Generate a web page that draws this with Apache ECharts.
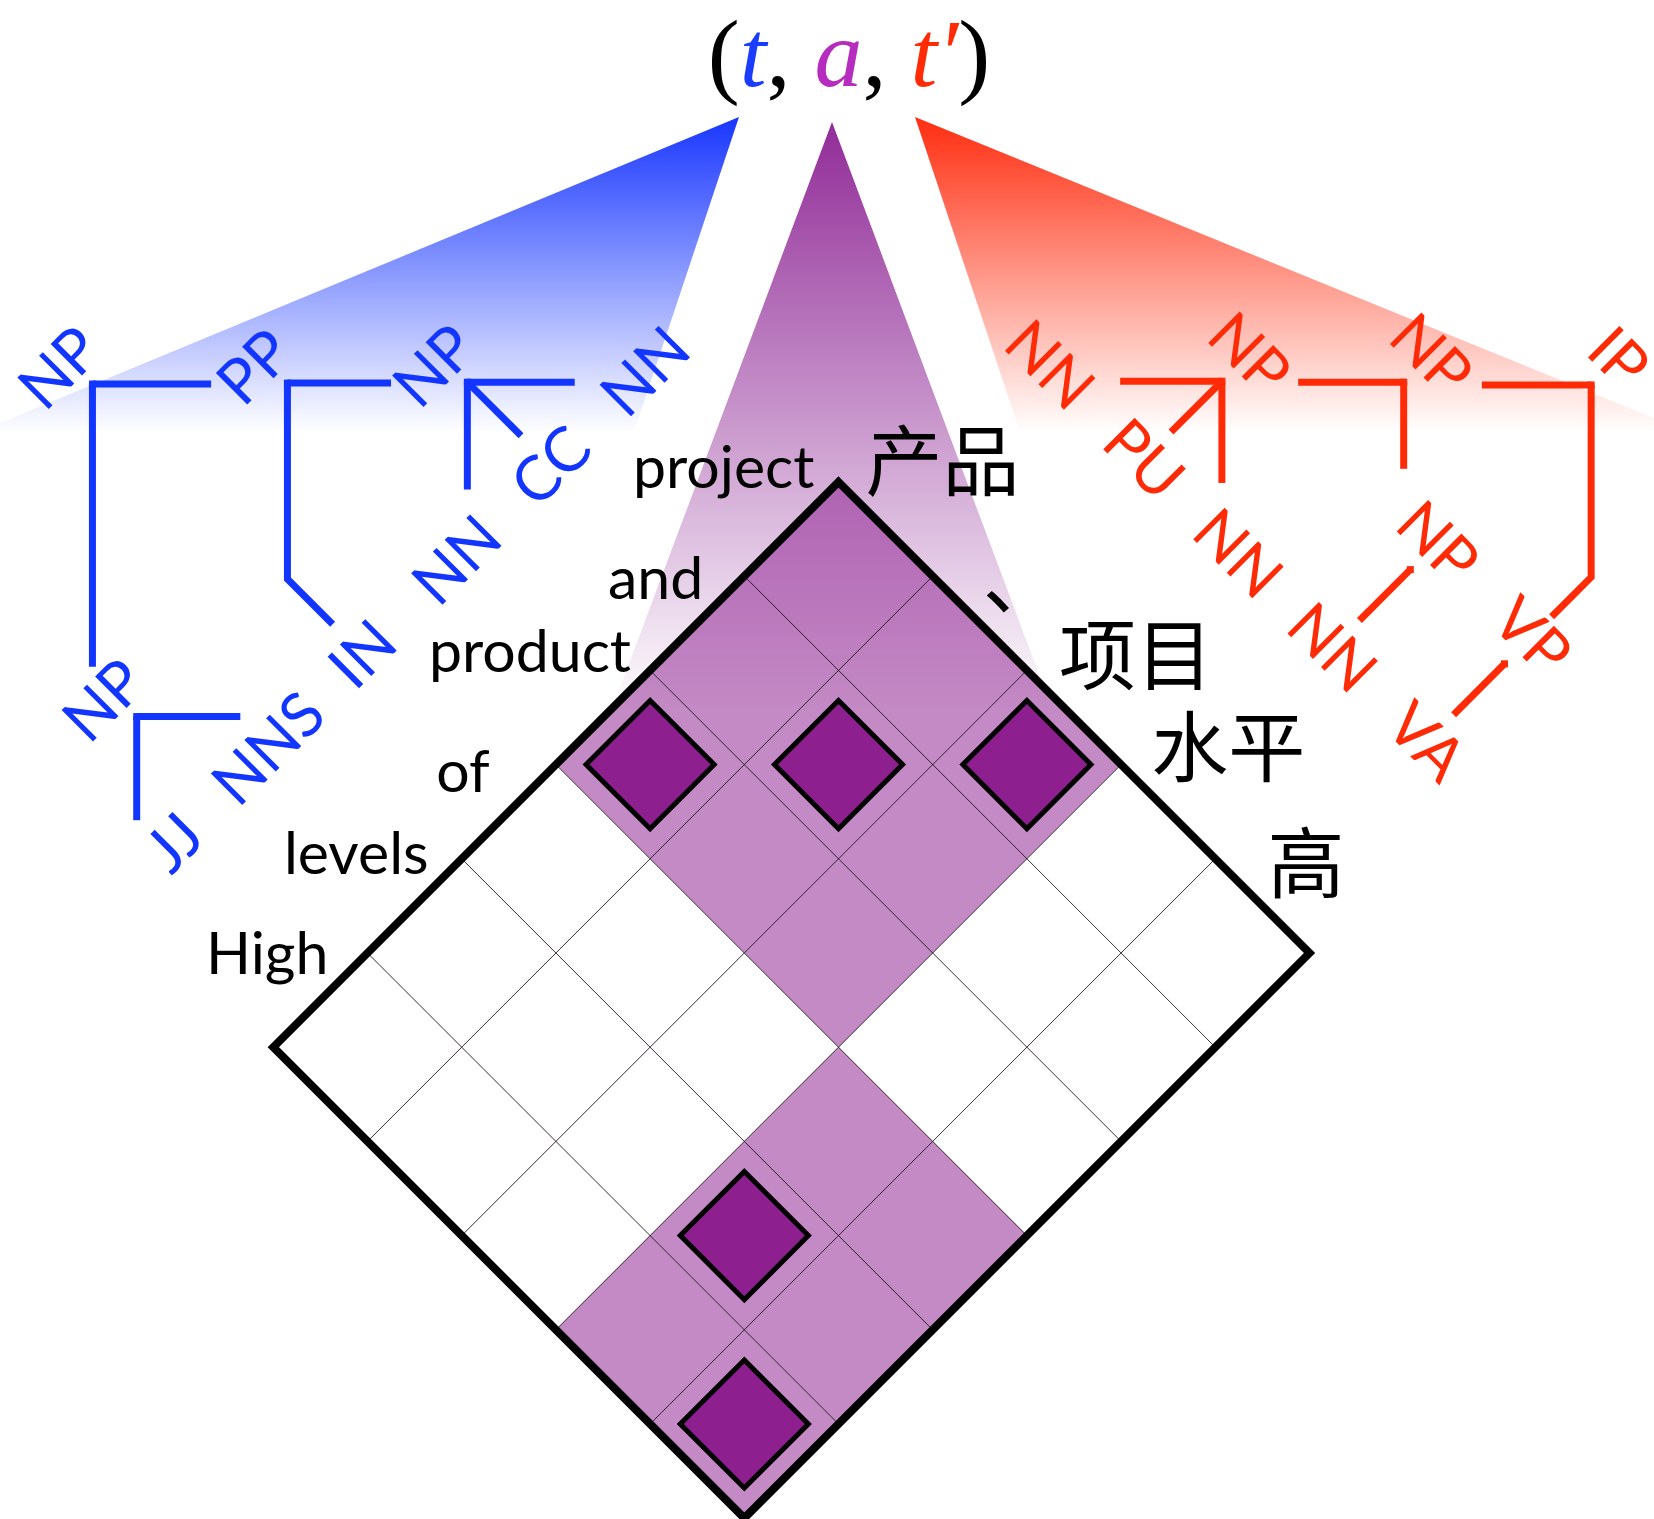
<!DOCTYPE html>
<html>
<head>
<meta charset="utf-8">
<script src="https://cdn.jsdelivr.net/npm/echarts@6/dist/echarts.min.js"></script>
<style>
  html, body { margin: 0; padding: 0; background: #fff; }
  #chart { width: 1654px; height: 1519px; }
</style>
</head>
<body>
<div id="chart"></div>
<script>
// sentence pair, left to right
const enWords = ['High', 'levels', 'of', 'product', 'and', 'project']
const zhWords = ['产品', '、', '项目', '水平', '高']
// word alignments [en index, zh index]
const links = [[0, 4], [1, 3], [3, 0], [4, 1], [5, 2]]
// aligned phrase blocks [en from, en to, zh from, zh to]
const blocks = [[3, 5, 0, 2], [0, 2, 3, 4]]
// part of speech tags, one per word
const enTags = ['JJ', 'NNS', 'IN', 'NN', 'CC', 'NN']
const zhTags = ['NN', 'PU', 'NN', 'NN', 'VA']
// phrase nodes: [label, place along the sentence, height above the words, children]
// 't3' = tag of word 3, 'n1' = node 1
const enNodes = [
  ['NP', 1.03, 2.48, ['t0', 't1']],
  ['NP', 4.56, 2.5, ['t3', 't4', 't5']],
  ['PP', 3.6, 3.45, ['t2', 'n1']],
  ['NP', 2.56, 4.48, ['n0', 'n2']],
]
const zhNodes = [
  ['NP', 1.5, 2.57, ['t0', 't1', 't2']],
  ['NP', 3.5, 2.57, ['t3']],
  ['VP', 4.5, 2.57, ['t4']],
  ['NP', 2.47, 3.53, ['n0', 'n1']],
  ['IP', 3.48, 4.51, ['n3', 'n2']],
]

// ---- layout ----
const S = 94.2              // px per cell half-diagonal
const TOP = [838.5, 482]    // page position of the grid's top corner
const W = 1654, H = 1519
const BLUE = '#1236ff', RED = '#ff2a06', PURPLE = '#8e1f8f'
const WORD_FONT = 'Lato, "Open Sans", sans-serif'
const CJK_FONT = '"Noto Sans CJK SC", sans-serif'
// small per-word lifts (px) of the word labels above their cell
const enLift = [-27, -33, -21, -47, -25, -42]
const enShift = [0, 0, -21, 0, 0, 0]
const zhLift = [-68, -45, -63, -65, -43]
// the three shaded fans under (t, a, t') in page pixels
const fans = [
  { apex: [739, 117], base: [[-22, 432], [634, 432]], rgb: '24,54,255', fade: 1 },
  { apex: [832, 122], base: [[591, 765], [1073, 765]], rgb: '145,44,152', fade: 0.92 },
  { apex: [915, 117], base: [[1020, 432], [1688, 432]], rgb: '255,45,16', fade: 1 },
]
// tree drawing settings per side
const enTree = { tagShift: 0.06, tagQ: 1.6, tagEnd: 1.93, labelDx: -0.09, labelDq: 0.25, horiz: 1 }
const zhTree = { tagShift: 0, tagQ: 1.73, tagEnd: 2.03, labelDx: 0, labelDq: 0.28, horiz: -1 }

const nEn = enWords.length, nZh = zhWords.length
const toFrame = ([px, py]) => [(px - TOP[0]) / S, (py - TOP[1]) / S]
// lattice point (a along english edge, b along chinese edge)
const lat = (a, b) => [b - a, a + b]
// english side: x along the sentence, q away from the grid
const enPt = (x, q) => { const p = nEn - x; return [-p - q, p - q] }
const zhPt = (x, q) => [x + q, x - q]

const cells = []
for (let e = 0; e < nEn; e++) {
  for (let c = 0; c < nZh; c++) {
    const i = nEn - 1 - e
    const shaded = blocks.some(b => i >= b[0] && i <= b[1] && c >= b[2] && c <= b[3])
    cells.push([e, c, shaded ? 1 : 0])
  }
}

function diamond(api, e, c, k) {
  const cx = c - e, cy = e + c + 1
  return [[cx, cy - k], [cx + k, cy], [cx, cy + k], [cx - k, cy]].map(p => api.coord(p))
}

function edgePath(xp, qp, xc, qEnd) {
  const dx = xc - xp, drop = qp - qEnd
  // a short straight tail is not worth a kink
  if (Math.abs(dx) <= drop - 0.12) return [[xp, qp], [xc, qp - Math.abs(dx)], [xc, qEnd]]
  return [[xp, qp], [xp + Math.sign(dx) * drop, qEnd]]
}

function treeSeries(nodes, toPt, color, rot, cfg) {
  return {
    type: 'custom', coordinateSystem: 'cartesian2d', z: 6,
    data: nodes.map((n, i) => [i]),
    renderItem: (params, api) => {
      const [label, x, q, kids] = nodes[params.dataIndex]
      const P = pt => api.coord(toPt(pt[0], pt[1]))
      const children = []
      kids.forEach(k => {
        let cx, end
        if (k[0] === 't') {
          cx = +k.slice(1) + 0.5 + cfg.tagShift
          end = cfg.tagEnd
        } else {
          const ch = nodes[+k.slice(1)]
          cx = ch[1]
          end = ch[2] + (Math.sign(cx - x) === cfg.horiz ? 0.4 : 0.5)
        }
        children.push({
          type: 'polyline',
          shape: { points: edgePath(x, q, cx, end).map(P) },
          style: { stroke: color, lineWidth: 7, fill: null, lineJoin: 'miter' },
        })
      })
      const c0 = P([x, q])
      children.push({ type: 'rect', shape: { x: c0[0] - 3.5, y: c0[1] - 3.5, width: 7, height: 7 }, style: { fill: color } })
      const lp = P([x + cfg.labelDx, q + cfg.labelDq])
      children.push({
        type: 'text', x: lp[0], y: lp[1], rotation: rot,
        style: { text: label, fill: color, fontSize: 62, fontFamily: WORD_FONT, align: 'center', verticalAlign: 'middle' },
      })
      return { type: 'group', children }
    },
  }
}

function tagSeries(tags, toPt, color, rot, cfg) {
  return {
    type: 'custom', coordinateSystem: 'cartesian2d', z: 6,
    data: tags.map((t, i) => [i]),
    renderItem: (params, api) => {
      const i = params.dataIndex
      const pt = api.coord(toPt(i + 0.5 + cfg.tagShift, cfg.tagQ))
      return {
        type: 'text', x: pt[0], y: pt[1], rotation: rot,
        style: { text: tags[i], fill: color, fontSize: 62, fontFamily: WORD_FONT, align: 'center', verticalAlign: 'middle' },
      }
    },
  }
}

const serif = '"Liberation Serif", "DejaVu Serif", serif'
const option = {
  animation: false,
  title: {
    text: '{k|(}{b|t}{k|, }{m|a}{k|, }{r|t′}{k|)}',
    left: 844, top: 8, textAlign: 'center',
    textStyle: {
      fontWeight: 'normal',
      rich: {
        k: { fontFamily: serif, fontSize: 96, fontWeight: 'normal', color: '#000' },
        b: { fontFamily: serif, fontStyle: 'italic', fontWeight: 'normal', fontSize: 96, color: '#1a3cff' },
        m: { fontFamily: serif, fontStyle: 'italic', fontWeight: 'normal', fontSize: 96, color: '#b52cbf' },
        r: { fontFamily: serif, fontStyle: 'italic', fontWeight: 'normal', fontSize: 96, color: '#ff2a06' },
      },
    },
  },
  grid: { left: 0, right: 0, top: 0, bottom: 0 },
  xAxis: { type: 'value', min: -TOP[0] / S, max: (W - TOP[0]) / S, show: false },
  yAxis: { type: 'value', min: -TOP[1] / S, max: (H - TOP[1]) / S, inverse: true, show: false },
  series: [
    {
      // fans from the symbols down to the trees and the grid
      type: 'custom', coordinateSystem: 'cartesian2d', z: 1,
      data: fans.map((f, i) => [i]),
      renderItem: (params, api) => {
        const f = fans[params.dataIndex]
        const pts = [f.apex, ...f.base].map(toFrame).map(p => api.coord(p))
        return {
          type: 'polygon', shape: { points: pts },
          style: {
            fill: {
              type: 'linear', x: 0, y: 0, x2: 0, y2: 1,
              colorStops: [
                { offset: 0, color: `rgba(${f.rgb},1)` },
                { offset: f.fade, color: `rgba(${f.rgb},0)` },
                { offset: 1, color: `rgba(${f.rgb},0)` },
              ],
            },
          },
        }
      },
    },
    {
      // alignment matrix cells
      type: 'custom', coordinateSystem: 'cartesian2d', z: 2,
      data: cells,
      renderItem: (params, api) => {
        const e = api.value(0), c = api.value(1), sh = api.value(2)
        return {
          type: 'polygon', shape: { points: diamond(api, e, c, 1) },
          style: { fill: sh ? 'rgba(141,31,143,0.52)' : '#fff' },
        }
      },
    },
    {
      // thin grid lines
      type: 'custom', coordinateSystem: 'cartesian2d', z: 3,
      data: [[0]],
      renderItem: (params, api) => {
        const children = []
        const seg = (p1, p2) => {
          const a = api.coord(p1), b = api.coord(p2)
          children.push({ type: 'line', shape: { x1: a[0], y1: a[1], x2: b[0], y2: b[1] }, style: { stroke: 'rgba(20,10,20,0.85)', lineWidth: 1 } })
        }
        for (let a = 1; a < nEn; a++) seg(lat(a, 0), lat(a, nZh))
        for (let b = 1; b < nZh; b++) seg(lat(0, b), lat(nEn, b))
        return { type: 'group', children }
      },
    },
    {
      // word alignments
      type: 'custom', coordinateSystem: 'cartesian2d', z: 4,
      data: links,
      renderItem: (params, api) => {
        const i = api.value(0), c = api.value(1)
        return {
          type: 'polygon', shape: { points: diamond(api, nEn - 1 - i, c, 0.68) },
          style: { fill: PURPLE, stroke: '#000', lineWidth: 5, lineJoin: 'miter' },
        }
      },
    },
    {
      // outer frame
      type: 'custom', coordinateSystem: 'cartesian2d', z: 5,
      data: [[0]],
      renderItem: (params, api) => ({
        type: 'polygon',
        shape: { points: [lat(0, 0), lat(0, nZh), lat(nEn, nZh), lat(nEn, 0)].map(p => api.coord(p)) },
        style: { fill: null, stroke: '#000', lineWidth: 8, lineJoin: 'miter' },
      }),
    },
    {
      // english words
      type: 'custom', coordinateSystem: 'cartesian2d', z: 6,
      data: enWords.map((w, i) => [i]),
      renderItem: (params, api) => {
        const i = params.dataIndex, p = nEn - 1 - i + 0.5
        const a = api.coord([-p, p])
        const lift = enLift[i]
        return {
          type: 'text', x: a[0] - lift - 19 + enShift[i], y: a[1] + lift - 18,
          style: { text: enWords[i], fill: '#000', fontSize: 59, fontFamily: WORD_FONT, align: 'right', verticalAlign: 'middle' },
        }
      },
    },
    {
      // chinese words
      type: 'custom', coordinateSystem: 'cartesian2d', z: 6,
      data: zhWords.map((w, i) => [i]),
      renderItem: (params, api) => {
        const i = params.dataIndex, p = i + 0.5
        const a = api.coord([p, p])
        const lift = zhLift[i]
        return {
          type: 'text', x: a[0] + lift + 48, y: a[1] + lift,
          style: { text: zhWords[i], fill: '#000', fontSize: 77, fontFamily: CJK_FONT, align: 'left', verticalAlign: 'middle' },
        }
      },
    },
    treeSeries(enNodes, enPt, BLUE, Math.PI / 4, enTree),
    tagSeries(enTags, enPt, BLUE, Math.PI / 4, enTree),
    treeSeries(zhNodes, zhPt, RED, -Math.PI / 4, zhTree),
    tagSeries(zhTags, zhPt, RED, -Math.PI / 4, zhTree),
  ],
}

const chart = echarts.init(document.getElementById('chart'))
chart.setOption(option)
</script>
</body>
</html>
